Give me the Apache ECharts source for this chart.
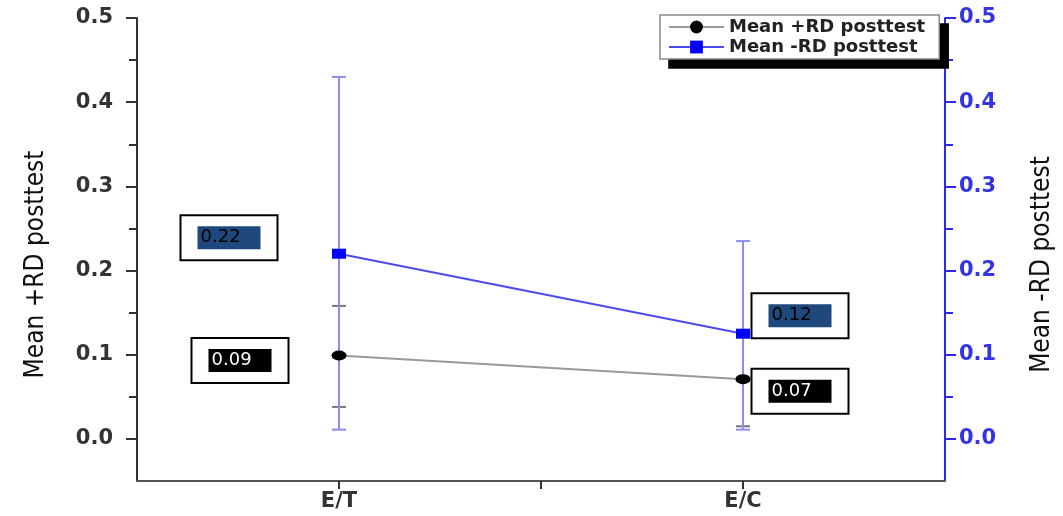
<!DOCTYPE html>
<html><head><meta charset="utf-8">
<script src="https://cdn.jsdelivr.net/npm/echarts@6/dist/echarts.min.js"></script>
<style>html,body{margin:0;padding:0;background:#fff}#c{width:1063px;height:516px}</style>
</head><body><div id="c"></div>
<script>
// ---- data ----
const categories = ['E/T', 'E/C'];
const plusRD = [0.099, 0.071];
const plusRDLow = [0.038, 0.015];
const plusRDHigh = [0.158, 0.127];
const minusRD = [0.220, 0.125];
const minusRDLow = [0.011, 0.011];
const minusRDHigh = [0.430, 0.235];
const plusRDLabels = ['0.09', '0.07'];
const minusRDLabels = ['0.22', '0.12'];
const yTicks = [0, 0.1, 0.2, 0.3, 0.4, 0.5];
const yMinorTicks = [0.05, 0.15, 0.25, 0.35, 0.45];
const yMin = -0.05, yMax = 0.5;
const seriesNames = ['Mean +RD posttest', 'Mean -RD posttest'];

// ---- styles ----
const plusOffsets = [[-99, 5], [57, 12]];
const minusOffsets = [[-110, -16], [57, -18]];
const BLUE = '#2a2ae8';
const numFont = 'DejaVu Sans';
const nameFont = '"DejaVu Sans Condensed", "Liberation Sans Narrow", sans-serif';

const xPos = categories.map((c, i) => i + 0.5);

function errRender(color, capW) {
  return function (params, api) {
    const x = api.value(0), lo = api.value(1), hi = api.value(2);
    const pLo = api.coord([x, lo]), pHi = api.coord([x, hi]);
    const h = capW / 2;
    const style = { stroke: color, lineWidth: 2 };
    return { type: 'group', children: [
      { type: 'line', shape: { x1: pLo[0], y1: pLo[1], x2: pHi[0], y2: pHi[1] }, style },
      { type: 'line', shape: { x1: pLo[0] - h, y1: pLo[1], x2: pLo[0] + h, y2: pLo[1] }, style },
      { type: 'line', shape: { x1: pHi[0] - h, y1: pHi[1], x2: pHi[0] + h, y2: pHi[1] }, style }
    ]};
  };
}

function boxLabel(bg, fg) {
  return {
    show: true, position: 'inside', align: 'center', verticalAlign: 'middle',
    backgroundColor: '#fff', borderColor: '#000', borderWidth: 2,
    padding: [10, 16, 10, 16],
    rich: { a: { backgroundColor: bg, color: fg, width: 60, height: 23, lineHeight: 23,
      padding: [0, 0, 0, 3], fontFamily: numFont, fontSize: 18, align: 'left' } }
  };
}

function mainY(pos, color, labelColor, name, gap, margin) {
  return {
    type: 'value', position: pos, min: yMin, max: yMax,
    name: name, nameLocation: 'middle', nameGap: gap, nameRotate: 90,
    nameTextStyle: { fontFamily: nameFont, fontSize: 26, color: '#111', padding: [0, 30, 0, 0] },
    axisLine: { show: true, lineStyle: { color: color, width: 2 } },
    axisTick: { show: true, length: 11, lineStyle: { color: color, width: 2 }, customValues: yTicks },
    axisLabel: { show: true, margin: margin, color: labelColor, fontFamily: numFont, fontWeight: 'bold', fontSize: 21,
      customValues: yTicks, formatter: v => v.toFixed(1) },
    splitLine: { show: false }
  };
}
function minorY(pos, color) {
  return {
    type: 'value', position: pos, min: yMin, max: yMax,
    axisLine: { show: false },
    axisTick: { show: true, length: 8, lineStyle: { color: color, width: 2 }, customValues: yMinorTicks },
    axisLabel: { show: false }, splitLine: { show: false }
  };
}

function legendBox(left, top, bg, border, textColor, z, extra) {
  return Object.assign({
    orient: 'vertical', left: left, top: top, itemWidth: 55, itemHeight: 16, itemGap: 2, z: z,
    padding: [3, 14, 3, 8], backgroundColor: bg, borderColor: border, borderWidth: 1.5,
    textStyle: { fontFamily: numFont, fontWeight: 'bold', fontSize: 18, color: textColor },
    selectedMode: false,
    data: seriesNames
  }, extra || {});
}

const option = {
  backgroundColor: '#fff',
  animation: false,
  grid: { left: 137, right: 113, top: 18, bottom: 35, containLabel: false },
  legend: [
    legendBox(669, 24, '#000', '#000', '#000', 5,
      { itemStyle: { color: '#000', borderColor: '#000' }, lineStyle: { color: '#000' } }),
    legendBox(660, 15, '#fff', '#888', '#222', 6)
  ],
  xAxis: {
    type: 'value', min: 0, max: categories.length,
    axisLine: { show: true, onZero: false, lineStyle: { color: '#555', width: 2 } },
    axisTick: { show: true, length: 8, lineStyle: { color: '#333', width: 2 }, customValues: [0.5, 1, 1.5] },
    axisLabel: { show: true, margin: 10, color: '#333', fontFamily: numFont, fontWeight: 'bold', fontSize: 21,
      customValues: xPos, formatter: v => categories[Math.floor(v)] },
    splitLine: { show: false }
  },
  yAxis: [
    mainY('left', '#333', '#333', seriesNames[0], 88, 24),
    mainY('right', BLUE, '#3434e6', seriesNames[1], 84, 14),
    minorY('left', '#333'),
    minorY('right', BLUE)
  ],
  series: [
    { type: 'custom', name: 'errPlus', yAxisIndex: 0, z: 1, renderItem: errRender('#777', 14),
      data: xPos.map((x, i) => [x, plusRDLow[i], plusRDHigh[i]]), encode: { x: 0, y: [1, 2] }, silent: true },
    { type: 'custom', name: 'errMinus', yAxisIndex: 1, z: 2, renderItem: errRender('#8c8cf2', 14),
      data: xPos.map((x, i) => [x, minusRDLow[i], minusRDHigh[i]]), encode: { x: 0, y: [1, 2] }, silent: true },
    { type: 'line', name: seriesNames[0], yAxisIndex: 0, z: 3,
      symbol: 'circle', symbolSize: [15, 10],
      itemStyle: { color: '#000' }, lineStyle: { color: '#999', width: 2 },
      label: boxLabel('#000', '#fff'),
      data: plusRD.map((v, i) => ({ value: [xPos[i], v],
        label: { formatter: '{a|' + plusRDLabels[i] + '}', offset: plusOffsets[i] } })) },
    { type: 'line', name: seriesNames[1], yAxisIndex: 1, z: 4,
      symbol: 'rect', symbolSize: [14, 10],
      itemStyle: { color: '#0000ff' }, lineStyle: { color: '#4b4bf0', width: 2 },
      label: boxLabel('#1f497d', '#000'),
      data: minusRD.map((v, i) => ({ value: [xPos[i], v],
        label: { formatter: '{a|' + minusRDLabels[i] + '}', offset: minusOffsets[i] } })) }
  ]
};
echarts.init(document.getElementById('c')).setOption(option);
</script></body></html>
